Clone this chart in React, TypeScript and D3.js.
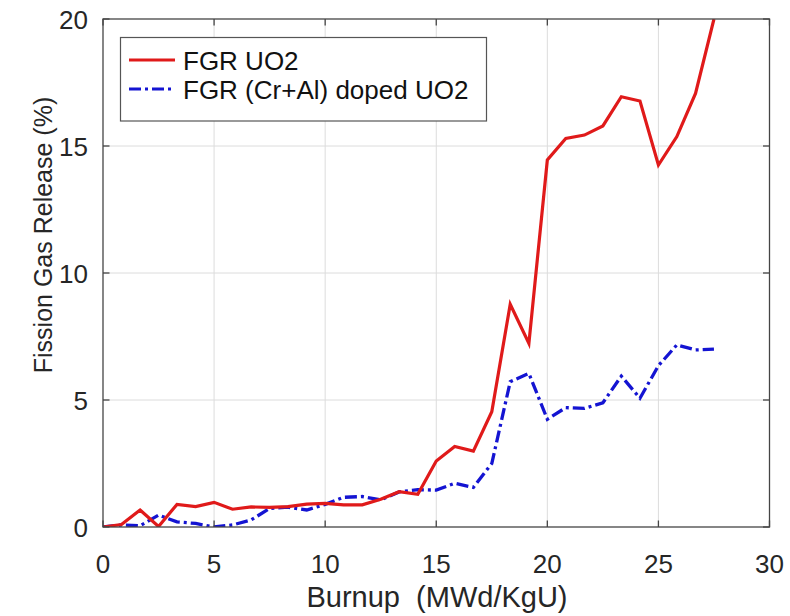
import * as d3 from 'd3';
import React, { useEffect, useRef } from 'react';

// Burnup (MWd/KgU) sample points
const burnup = [0, 0.83, 1.67, 2.5, 3.33, 4.17, 5, 5.83, 6.67, 7.5, 8.33, 9.17, 10, 10.83, 11.67, 12.5,
  13.33, 14.17, 15, 15.83, 16.67, 17.5, 18.33, 19.17, 20, 20.83, 21.67, 22.5, 23.33, 24.17, 25, 25.83, 26.67, 27.5];

// FGR (%) for standard UO2
const fgrUO2 = [0, 0.1, 0.67, 0.02, 0.89, 0.8, 0.97, 0.7, 0.79, 0.77, 0.8, 0.9, 0.93, 0.87, 0.87, 1.09,
  1.39, 1.29, 2.6, 3.17, 2.99, 4.54, 8.77, 7.23, 14.45, 15.3, 15.43, 15.79, 16.94, 16.77, 14.25, 15.37, 17.07, 20.0];

// FGR (%) for (Cr+Al) doped UO2
const fgrDoped = [0, 0.08, 0.05, 0.47, 0.2, 0.14, 0, 0.08, 0.28, 0.73, 0.78, 0.67, 0.89, 1.17, 1.2, 1.07,
  1.38, 1.47, 1.45, 1.72, 1.56, 2.5, 5.72, 6.05, 4.24, 4.7, 4.67, 4.89, 5.94, 5.07, 6.35, 7.17, 6.97, 7.0];

const xTicks = [0, 5, 10, 15, 20, 25, 30];
const yTicks = [0, 5, 10, 15, 20];
const seriesNames = ['FGR UO2', 'FGR (Cr+Al) doped UO2'];

export default function App() {
  const svgRef = useRef<SVGSVGElement | null>(null);

  const width = 790;
  const height = 616;
  const left = 103, right = 769.5, top = 19, bottom = 527;
  const font = '"Liberation Sans", Arial, Helvetica, sans-serif';
  const red = '#e01a1a';
  const blue = '#1414d2';
  const dashDot = '12,4,3,4';

  useEffect(() => {
    const svg = d3.select(svgRef.current);
    svg.selectAll('*').remove();

    const x = d3.scaleLinear().domain([0, 30]).range([left, right]);
    const y = d3.scaleLinear().domain([0, 20]).range([bottom, top]);

    // background
    svg.append('rect').attr('width', width).attr('height', height).attr('fill', 'white');

    // grid
    const grid = svg.append('g').attr('stroke', '#dcdcdc').attr('stroke-width', 1);
    xTicks.slice(1, -1).forEach(t => {
      grid.append('line').attr('x1', x(t)).attr('x2', x(t)).attr('y1', top).attr('y2', bottom);
    });
    yTicks.slice(1, -1).forEach(t => {
      grid.append('line').attr('x1', left).attr('x2', right).attr('y1', y(t)).attr('y2', y(t));
    });

    // clip for lines
    svg.append('defs').append('clipPath').attr('id', 'plotclip')
      .append('rect').attr('x', left).attr('y', top).attr('width', right - left).attr('height', bottom - top);

    const line = d3.line<number>()
      .x((d, i) => x(burnup[i]))
      .y(d => y(d));

    svg.append('path')
      .datum(fgrDoped)
      .attr('clip-path', 'url(#plotclip)')
      .attr('d', line)
      .attr('fill', 'none')
      .attr('stroke', blue)
      .attr('stroke-width', 3.3)
      .attr('stroke-dasharray', dashDot);

    svg.append('path')
      .datum(fgrUO2)
      .attr('clip-path', 'url(#plotclip)')
      .attr('d', line)
      .attr('fill', 'none')
      .attr('stroke', red)
      .attr('stroke-width', 3.2);

    // axes box + ticks
    const axis = svg.append('g').attr('stroke', '#454545').attr('stroke-width', 1.3);
    axis.append('rect').attr('x', left).attr('y', top).attr('width', right - left).attr('height', bottom - top)
      .attr('fill', 'none');
    const tl = 6.5;
    xTicks.forEach(t => {
      axis.append('line').attr('x1', x(t)).attr('x2', x(t)).attr('y1', bottom).attr('y2', bottom - tl);
      axis.append('line').attr('x1', x(t)).attr('x2', x(t)).attr('y1', top).attr('y2', top + tl);
    });
    yTicks.forEach(t => {
      axis.append('line').attr('x1', left).attr('x2', left + tl).attr('y1', y(t)).attr('y2', y(t));
      axis.append('line').attr('x1', right).attr('x2', right - tl).attr('y1', y(t)).attr('y2', y(t));
    });

    // tick labels
    svg.append('g').selectAll('text')
      .data(xTicks)
      .enter()
      .append('text')
      .attr('x', d => x(d))
      .attr('y', 573)
      .attr('text-anchor', 'middle')
      .attr('font-family', font)
      .attr('font-size', 26)
      .attr('fill', '#262626')
      .text(d => d);

    svg.append('g').selectAll('text')
      .data(yTicks)
      .enter()
      .append('text')
      .attr('x', 88)
      .attr('y', d => y(d) + 9.5)
      .attr('text-anchor', 'end')
      .attr('font-family', font)
      .attr('font-size', 26)
      .attr('fill', '#262626')
      .text(d => d);

    // axis labels
    svg.append('text')
      .attr('x', 437)
      .attr('y', 607)
      .attr('text-anchor', 'middle')
      .attr('font-family', font)
      .attr('font-size', 29)
      .attr('fill', '#262626')
      .style('white-space', 'pre')
      .text('Burnup  (MWd/KgU)');

    svg.append('text')
      .attr('transform', 'translate(52,235) rotate(-90)')
      .attr('text-anchor', 'middle')
      .attr('font-family', font)
      .attr('font-size', 25)
      .attr('fill', '#262626')
      .text('Fission Gas Release (%)');

    // legend
    const lg = svg.append('g');
    lg.append('rect')
      .attr('x', 120.5).attr('y', 37.5).attr('width', 366).attr('height', 83.5)
      .attr('fill', 'white').attr('stroke', '#555').attr('stroke-width', 1.2);
    const rows = [
      { name: seriesNames[0], color: red, dash: null, yy: 60 },
      { name: seriesNames[1], color: blue, dash: dashDot, yy: 89 },
    ];
    rows.forEach(r => {
      lg.append('line')
        .attr('x1', 129).attr('x2', 175).attr('y1', r.yy).attr('y2', r.yy)
        .attr('stroke', r.color).attr('stroke-width', 3.2)
        .attr('stroke-dasharray', r.dash);
      lg.append('text')
        .attr('x', 183).attr('y', r.yy + 10)
        .attr('font-family', font)
        .attr('font-size', 26)
        .attr('fill', '#111')
        .text(r.name);
    });
  }, []);

  return (
    <svg ref={svgRef} width={width} height={height}
      style={{ position: 'absolute', left: 0, top: 0 }}></svg>
  );
}
